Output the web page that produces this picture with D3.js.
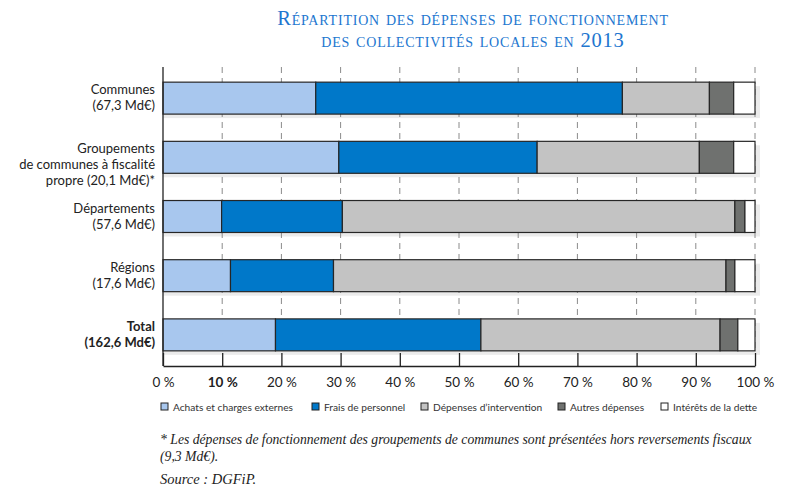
<!DOCTYPE html>
<html>
<head>
<meta charset="utf-8">
<script src="https://cdn.jsdelivr.net/npm/d3@7"></script>
<style>
  body { margin: 0; background: #fff; }
  svg { display: block; }
</style>
</head>
<body>
<div id="chart"></div>
<script>
// categories (label lines) and series, in % of each total
var categories = ["Communes", "Groupements", "Départements", "Régions", "Total"];
var labelLines = [
    ["Communes", "(67,3 Md€)"],
    ["Groupements", "de communes à fiscalité", "propre (20,1 Md€)*"],
    ["Départements", "(57,6 Md€)"],
    ["Régions", "(17,6 Md€)"],
    ["Total", "(162,6 Md€)"]
];
var seriesNames = ["Achats et charges externes", "Frais de personnel", "Dépenses d’intervention", "Autres dépenses", "Intérêts de la dette"];
var achats      = [25.8, 29.7,  9.9, 11.4, 19.0];
var personnel   = [51.8, 33.5, 20.4, 17.4, 34.7];
var intervention= [14.7, 27.4, 66.3, 66.3, 40.4];
var autres      = [ 4.1,  5.8,  1.7,  1.5,  3.0];
var interets    = [ 3.6,  3.6,  1.7,  3.4,  2.9];
var xTicks = [0, 10, 20, 30, 40, 50, 60, 70, 80, 90, 100];

function init() {
    var w = 799, h = 497;
    var colors = ["#a8c7ee", "#0078c9", "#c3c3c3", "#6f716f", "#ffffff"];
    var series = [achats, personnel, intervention, autres, interets];

    var svg = d3.select("#chart").append("svg")
        .attr("width", w).attr("height", h);

    var x = d3.scaleLinear().domain([0, 100]).range([163, 755]);
    var y = d3.scaleBand().domain(categories)
        .range([67, 366]).paddingInner(0.46).paddingOuter(0.256);

    // title
    var title = svg.append("text")
        .attr("text-anchor", "middle")
        .style("font-family", "'Liberation Serif', serif")
        .style("font-variant", "small-caps")
        .style("font-size", "20.5px")
        .style("letter-spacing", "0.8px")
        .style("fill", "#2276cf");
    title.append("tspan").attr("x", 473).attr("y", 25).text("Répartition des dépenses de fonctionnement");
    title.append("tspan").attr("x", 473).attr("y", 47).text("des collectivités locales en 2013");

    // stacked data
    var rows = categories.map(function(c, i) {
        var acc = 0;
        return series.map(function(s, k) {
            var seg = { cat: c, k: k, x0: acc, x1: acc + s[i] };
            acc += s[i];
            return seg;
        });
    });

    // shadows
    svg.selectAll("rect.shadow")
        .data(rows)
        .enter().append("rect")
        .attr("class", "shadow")
        .attr("x", x(0))
        .attr("y", function(d) { return y(d[0].cat) + 4; })
        .attr("width", function(d) { return x(d[d.length - 1].x1) - x(0) + 5; })
        .attr("height", y.bandwidth())
        .style("fill", "#ebebeb");

    // dashed gridlines
    svg.selectAll("line.grid")
        .data(xTicks.slice(1))
        .enter().append("line")
        .attr("class", "grid")
        .attr("x1", function(d) { return x(d); })
        .attr("x2", function(d) { return x(d); })
        .attr("y1", 67)
        .attr("y2", 353)
        .style("stroke", "#8a8a8a")
        .style("stroke-dasharray", "6,5");

    // bars
    var g = svg.selectAll("g.row")
        .data(rows)
        .enter().append("g").attr("class", "row");
    g.selectAll("rect")
        .data(function(d) { return d; })
        .enter().append("rect")
        .attr("x", function(d) { return x(d.x0); })
        .attr("y", function(d) { return y(d.cat); })
        .attr("width", function(d) { return x(d.x1) - x(d.x0); })
        .attr("height", y.bandwidth())
        .style("fill", function(d) { return colors[d.k]; })
        .style("stroke", "#262626")
        .style("stroke-width", 1.2);

    // bottom axis
    var xAxis = d3.axisBottom(x)
        .tickValues(xTicks)
        .tickSizeInner(-13)
        .tickSizeOuter(0)
        .tickPadding(11)
        .tickFormat(function(d) { return d + " %"; });
    var ax = svg.append("g").attr("transform", "translate(0,366)").call(xAxis);
    ax.select(".domain").style("stroke", "#222").style("stroke-width", 1.3);
    ax.selectAll(".tick line").style("stroke", "#222").style("stroke-width", 1.3);
    ax.selectAll(".tick text")
        .style("font-family", "Lato, sans-serif")
        .style("font-size", "13.5px")
        .style("fill", "#222")
        .style("font-weight", function(d) { return d === 10 ? "bold" : "normal"; });

    // left axis line
    svg.append("line")
        .attr("x1", x(0)).attr("x2", x(0))
        .attr("y1", 67).attr("y2", 366)
        .style("stroke", "#222").style("stroke-width", 1.3);

    // category labels
    categories.forEach(function(c, i) {
        var cy = y(c) + y.bandwidth() / 2;
        var t = svg.append("text")
            .attr("text-anchor", "end")
            .style("font-family", "Lato, sans-serif")
            .style("font-size", "13px")
            .style("fill", "#222")
            .style("font-weight", c === "Total" ? "bold" : "normal");
        labelLines[i].forEach(function(line, j) {
            t.append("tspan")
                .attr("x", 155)
                .attr("y", cy - 8 + j * 16 + 4)
                .text(line);
        });
    });

    // legend
    var legendX = [161, 312, 421, 558, 661];
    var lg = svg.selectAll("g.legend")
        .data(seriesNames)
        .enter().append("g")
        .attr("class", "legend")
        .attr("transform", function(d, i) { return "translate(" + legendX[i] + ",403)"; });
    lg.append("rect")
        .attr("width", 7).attr("height", 7)
        .style("fill", function(d, i) { return colors[i]; })
        .style("stroke", "#222");
    lg.append("text")
        .attr("x", 12).attr("y", 7.5)
        .style("font-family", "Lato, sans-serif")
        .style("font-size", "10.2px")
        .style("fill", "#333")
        .text(function(d) { return d; });

    // footnote
    var foot = svg.append("text")
        .style("font-family", "'Liberation Serif', serif")
        .style("font-style", "italic")
        .style("font-size", "13.7px")
        .style("fill", "#222");
    foot.append("tspan").attr("x", 160).attr("y", 444)
        .text("* Les dépenses de fonctionnement des groupements de communes sont présentées hors reversements fiscaux");
    foot.append("tspan").attr("x", 160).attr("y", 461).text("(9,3 Md€).");
    svg.append("text")
        .attr("x", 160).attr("y", 484)
        .style("font-family", "'Liberation Serif', serif")
        .style("font-style", "italic")
        .style("font-size", "14.5px")
        .style("fill", "#222")
        .text("Source : DGFiP.");
}

window.onload = init;
</script>
</body>
</html>
